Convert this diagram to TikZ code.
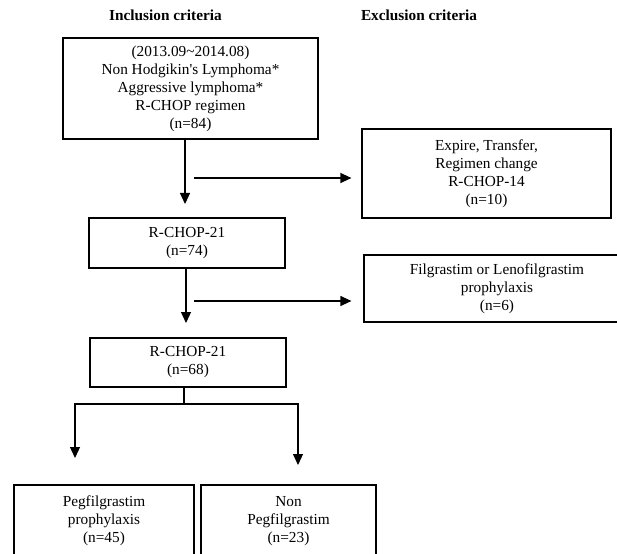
\documentclass[tikz,border=0pt]{standalone}
\usepackage{fontspec}
\setmainfont{Liberation Serif}
\usetikzlibrary{arrows.meta}

\begin{document}
\begin{tikzpicture}[x=1pt, y=-1pt,
        critbox/.style={draw, line width=1.2pt, align=center, inner sep=0pt,
            font=\fontsize{15.3}{18}\selectfont},
        flow/.style={line width=1.2pt, -{Triangle[width=10pt,length=11pt]}}]
        \useasboundingbox (0,0) rectangle (617,553);
        \clip (0,0) rectangle (617,553);
        % headings
        \node[font=\fontsize{15.3}{18}\selectfont\bfseries] (inc) at (165.5,15.5) {Inclusion criteria};
        \node[font=\fontsize{15.3}{18}\selectfont\bfseries] (exc) at (419,15.5) {Exclusion criteria};
        % main column
        \node[critbox, minimum width=255pt, minimum height=101pt] (start) at (190.5,88.5)
            {(2013.09\char`~2014.08)\\Non Hodgikin\textquotesingle s Lymphoma*\\Aggressive lymphoma*\\R-CHOP regimen\\(n=84)};
        \node[critbox, minimum width=196pt, minimum height=50pt] (rchopA) at (187,243) {R-CHOP-21\\(n=74)};
        \node[critbox, minimum width=196pt, minimum height=49pt] (rchopB) at (188,362.5) {R-CHOP-21\\(n=68)};
        % exclusions
        \node[critbox, minimum width=249pt, minimum height=89pt] (exA) at (486.5,173.5)
            {Expire, Transfer,\\Regimen change\\R-CHOP-14\\(n=10)};
        \node[critbox, minimum width=266pt, minimum height=67pt] (exB) at (497,288.5)
            {Filgrastim or Lenofilgrastim\\prophylaxis\\(n=6)};
        % groups
        \node[critbox, minimum width=180pt, minimum height=72pt] (peg) at (104,521)
            {Pegfilgrastim\\prophylaxis\\(n=45)};
        \node[critbox, minimum width=175pt, minimum height=72pt] (nopeg) at (288.5,521)
            {Non\\Pegfilgrastim\\(n=23)};
        % connectors
        \coordinate (tipA) at (185,204);
        \coordinate (tipB) at (186,323);
        \coordinate (outA) at (194,178);
        \coordinate (outB) at (194,301);
        \coordinate (fork) at (184,404);
        \draw[flow] (start.south -| tipA) -- (tipA);
        \draw[flow, shorten >=10pt] (outA) -- (outA -| exA.west);
        \draw[flow] (rchopA.south -| tipB) -- (tipB);
        \draw[flow, shorten >=12pt] (outB) -- (outB -| exB.west);
        \draw[line width=1.2pt] (rchopB.south -| fork) -- (fork);
        \draw[flow] (fork) -| (75,458);
        \draw[flow] (fork) -| (298,465);
\end{tikzpicture}
\end{document}
